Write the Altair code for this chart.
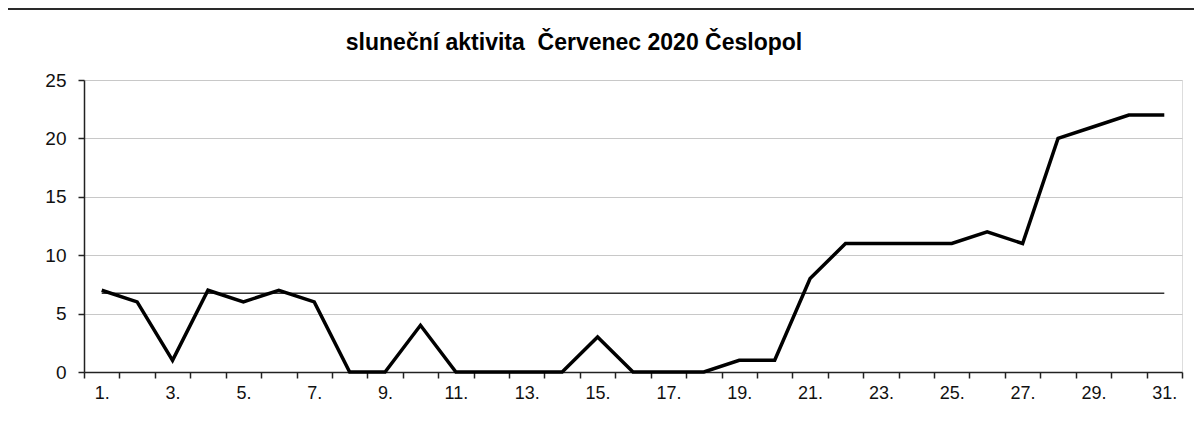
import altair as alt
import pandas as pd

days = list(range(1, 32))
activity = [7, 6, 1, 7, 6, 7, 6, 0, 0, 4, 0, 0, 0, 0, 3, 0, 0, 0, 1, 1,
            8, 11, 11, 11, 11, 12, 11, 20, 21, 22, 22]
title_text = ["sluneční aktivita\u00a0 Červenec 2020 Česlopol"]

df = pd.DataFrame({"day": days, "value": activity})
title_df = pd.DataFrame({"t": title_text})

FONT = "Liberation Sans"

x = alt.X(
    "day:O",
    scale=alt.Scale(paddingInner=0, paddingOuter=0),
    axis=alt.Axis(
        title=None,
        labelAngle=0,
        tickBand="extent",
        labelExpr="datum.value % 2 == 1 ? datum.value + '.' : ''",
        labelOverlap=False,
        labelFont=FONT,
        labelFontSize=18,
        labelColor="#111111",
        labelPadding=6,
        tickSize=6,
        tickColor="#222222",
        tickWidth=1.5,
        domainColor="#222222",
        domainWidth=1.5,
        grid=False,
    ),
)

y_scale = alt.Scale(domain=[0, 25], nice=False)

line = alt.Chart(df).mark_line(color="black", strokeWidth=3.5, strokeJoin="miter").encode(
    x=x,
    y=alt.Y(
        "value:Q",
        scale=y_scale,
        axis=alt.Axis(
            title=None,
            values=[0, 5, 10, 15, 20, 25],
            labelFont=FONT,
            labelFontSize=19,
            labelColor="#111111",
            labelPadding=12,
            tickSize=6,
            tickColor="#222222",
            tickWidth=1.5,
            domainColor="#222222",
            domainWidth=1.5,
            gridColor="#c8c8c8",
            gridWidth=1.2,
        ),
    ),
)

mean_line = alt.Chart(df).transform_joinaggregate(
    mean_value="mean(value)"
).mark_line(color="#333333", strokeWidth=1.3).encode(
    x=x,
    y=alt.Y("mean_value:Q", scale=y_scale),
)

# spreadsheet frame line at the very top of the picture
frame = alt.Chart(df.head(1)).mark_rule(color="#2a2a2a", strokeWidth=2, clip=False).encode(
    x=alt.value(-76), x2=alt.value(1110), y=alt.value(-71)
)

title = alt.Chart(title_df).mark_text(
    font=FONT, fontSize=23, fontWeight="bold", color="#000000",
    align="center", baseline="alphabetic", clip=False,
).encode(
    text="t:N", x=alt.value(490), y=alt.value(-30)
)

chart = alt.layer(frame, mean_line, line, title).properties(
    width=1098,
    height=292,
    autosize=alt.AutoSizeParams(type="none"),
    padding={"left": 76, "top": 72, "right": 12, "bottom": 50},
).configure_view(
    stroke="#9a9a9a",
    strokeWidth=1.5,
).configure(background="white")

chart.save("out.html", embed_options={"renderer": "svg", "actions": False})
